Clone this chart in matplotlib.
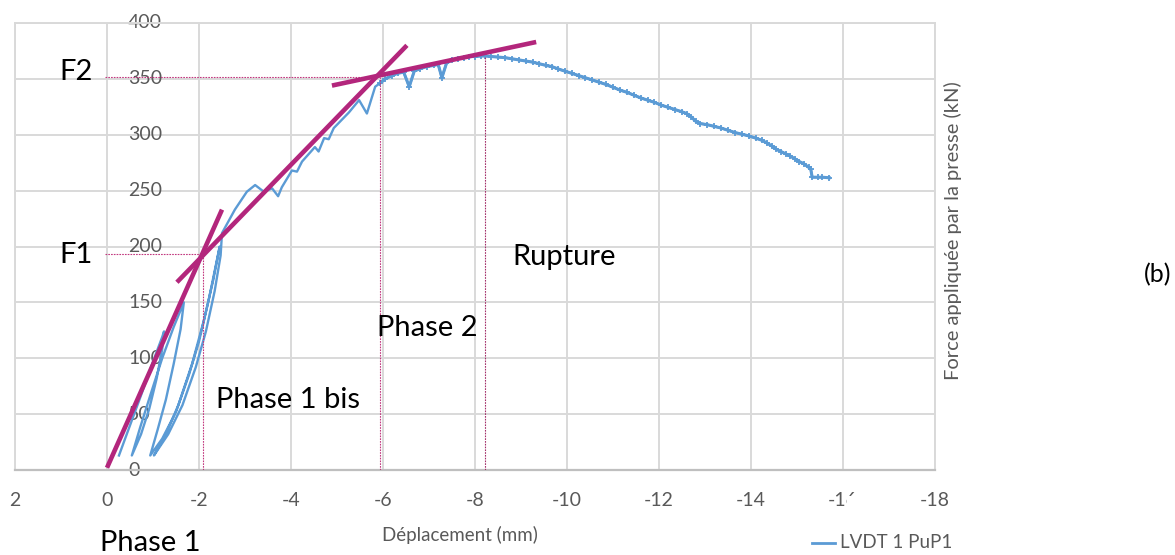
import matplotlib
matplotlib.use("Agg")
import matplotlib.pyplot as plt
from matplotlib.transforms import blended_transform_factory
from matplotlib.patches import Rectangle

plt.rcParams['font.family'] = ['Lato', 'DejaVu Sans']

# ---------------- data ----------------
x_ticks = [2, 0, -2, -4, -6, -8, -10, -12, -14, -16, -18]
x_tick_labels = ['2', '0', '-2', '-4', '-6', '-8', '-10', '-12', '-14', '-16', '-18']
y_ticks = [0, 50, 100, 150, 200, 250, 300, 350, 400]
y_tick_labels = ['0', '50', '100', '150', '200', '250', '300', '350', '400']

# LVDT 1 PuP1 : cyclic loading part (displacement mm, force kN)
cyc_x = [-0.26, -0.5, -0.75, -1.0, -1.2, -1.24,
         -1.2, -1.08, -0.92, -0.74, -0.54,
         -0.72, -0.95, -1.2, -1.45, -1.67,
         -1.6, -1.45, -1.28, -1.1, -0.94,
         -1.2, -1.5, -1.78, -2.0, -2.2, -2.35, -2.45,
         -2.31, -2.1, -1.85, -1.55, -1.27, -1.02,
         -1.33, -1.64, -1.93, -2.15, -2.34, -2.47]
cyc_y = [13, 40, 68, 97, 119, 124,
         108, 82, 55, 32, 13,
         38, 68, 100, 128, 150,
         126, 95, 63, 36, 13,
         28, 52, 85, 115, 150, 180, 200,
         170, 133, 95, 58, 31, 13,
         32, 58, 92, 124, 160, 192]

# main loading branch up to F2
main_x = [-2.5, -2.78, -3.04, -3.22, -3.41, -3.59, -3.72, -3.8, -4.02, -4.13,
          -4.24, -4.52, -4.6, -4.72, -4.82, -4.93, -5.26, -5.48, -5.65, -5.83]
main_y = [212, 233, 249, 255, 249, 252, 245, 253, 268, 267,
          276, 289, 285, 297, 296, 306, 320, 331, 319, 343]

# post-F2 branch (peak and softening)
post_x = [-5.93, -6.05, -6.2, -6.32, -6.45, -6.57, -6.68, -6.8, -6.95, -7.1,
          -7.2, -7.28, -7.38, -7.5, -7.62, -7.75, -7.88, -8.0, -8.12, -8.22,
          -8.35, -8.5, -8.65, -8.8, -8.95, -9.1, -9.25, -9.4, -9.55, -9.67,
          -9.8, -9.95, -10.1, -10.25, -10.4, -10.55, -10.7, -10.85, -11.0, -11.15,
          -11.3, -11.45, -11.6, -11.75, -11.9, -12.05, -12.2, -12.35, -12.5, -12.6,
          -12.7, -12.8, -12.9, -13.05, -13.2, -13.35, -13.5, -13.65, -13.8, -13.95,
          -14.1, -14.24, -14.35, -14.45, -14.55, -14.65, -14.75, -14.85, -14.95, -15.05,
          -15.15, -15.25, -15.3, -15.33, -15.45, -15.55, -15.7]
post_y = [346, 350, 353, 355, 356, 343, 357, 359, 361, 362,
          363, 351, 364, 367, 368, 369, 370, 370, 370.5, 370.5,
          370, 369.5, 369, 368, 367, 366, 365, 363.5, 362, 361,
          359, 357, 355, 353, 351, 349, 347, 345, 342.5, 340,
          338, 335.5, 333, 331, 329, 326.5, 324.5, 322.5, 320.5, 319,
          316, 312, 310, 309, 307.5, 306, 304, 302, 300.5, 299,
          297, 295, 292.5, 290, 287, 285, 283, 281, 278.5, 276,
          274, 271, 269, 262, 262, 262, 261.5]

# tangent lines (magenta)
tan1_x, tan1_y = [0.0, -2.5], [2, 233]
tan2_x, tan2_y = [-1.52, -6.52], [168, 380]
tan3_x, tan3_y = [-4.89, -9.33], [344, 383]

# characteristic points
F1_x, F1_y = -2.09, 193
F2_x, F2_y = -5.93, 352
Rup_x, Rup_y = -8.22, 370
ref_x0 = 0.05

# ---------------- figure ----------------
W, H = 1175, 555
fig = plt.figure(figsize=(W / 100, H / 100), dpi=100)
ax = fig.add_axes([15 / W, 1 - 470 / H, 920 / W, 447 / H])

ax.set_xlim(2, -18)
ax.set_ylim(0, 400)
ax.set_xticks(x_ticks)
ax.set_yticks(y_ticks)
ax.set_xticklabels([])
ax.set_yticklabels([])
ax.tick_params(length=0)
ax.grid(True, color='#D9D9D9', linewidth=1.4)
ax.set_axisbelow(True)
for s in ['top', 'right', 'left']:
    ax.spines[s].set_color('#D9D9D9')
    ax.spines[s].set_linewidth(1.4)
ax.spines['bottom'].set_color('#BFBFBF')
ax.spines['bottom'].set_linewidth(1.6)

blue = '#5B9BD5'
mag = '#B3267C'
dot = '#C2387F'

# curve
all_x = cyc_x + main_x + post_x
all_y = cyc_y + main_y + post_y
ax.plot(all_x, all_y, color=blue, linewidth=1.7, solid_joinstyle='round', zorder=3)
ax.plot(post_x, post_y, color=blue, linewidth=2.2, marker='+', markersize=4.5,
        markeredgewidth=1.3, zorder=3)

# dotted reference lines
kw = dict(color=dot, linewidth=0.8, linestyle=(0, (1.5, 1.0)), zorder=4)
ax.plot([ref_x0, F2_x], [F2_y, F2_y], **kw)
ax.plot([F2_x, F2_x], [0, F2_y], **kw)
ax.plot([ref_x0, F1_x], [F1_y, F1_y], **kw)
ax.plot([F1_x, F1_x], [0, F1_y], **kw)
ax.plot([Rup_x, Rup_x], [0, Rup_y], color='#A3306A', linewidth=0.8,
        linestyle=(0, (1.5, 1.0)), zorder=4)

# tangents
for tx, ty in [(tan1_x, tan1_y), (tan2_x, tan2_y), (tan3_x, tan3_y)]:
    ax.plot(tx, ty, color=mag, linewidth=3.3, solid_capstyle='butt', zorder=5)

gray = '#595959'
tick_fs = 14
# y tick labels inside plot (left aligned)
tr_y = blended_transform_factory(fig.transFigure, ax.transData)
for v, lab in zip(y_ticks, y_tick_labels):
    ax.text(128 / W, v, lab, transform=tr_y, ha='left', va='center',
            fontsize=tick_fs, color=gray, zorder=2)

# x tick labels
tr_x = blended_transform_factory(ax.transData, fig.transFigure)
for v, lab in zip(x_ticks, x_tick_labels):
    ax.text(v, 1 - 501 / H, lab, transform=tr_x, ha='center', va='center',
            fontsize=tick_fs, color=gray, clip_on=False)

# the "6" of -16 is partly hidden in the original
fig.add_artist(Rectangle((847 / W, 1 - 515 / H), 14 / W, 19 / H,
                         transform=fig.transFigure, facecolor='white',
                         edgecolor='none', zorder=10))

def ftxt(px, py, s, **k):
    fig.text(px / W, 1 - py / H, s, **k)

ftxt(460, 535, 'Déplacement (mm)', ha='center', va='center', fontsize=13.5, color=gray)
ftxt(953, 231, 'Force appliquée par la presse (kN)', ha='center', va='center',
     rotation=90, fontsize=14.5, color=gray)

big = 21
ftxt(76, 72, 'F2', ha='center', va='center', fontsize=big, color='black')
ftxt(76, 255, 'F1', ha='center', va='center', fontsize=big, color='black')
ftxt(100, 543, 'Phase 1', ha='left', va='center', fontsize=big, color='black')
ftxt(216, 400, 'Phase 1 bis', ha='left', va='center', fontsize=big, color='black')
ftxt(377, 328, 'Phase 2', ha='left', va='center', fontsize=big, color='black')
ftxt(512, 257, 'Rupture', ha='left', va='center', fontsize=big, color='black')
ftxt(1144, 275, '(b)', ha='left', va='center', fontsize=18, color='black')

# legend
fig.add_artist(plt.Line2D([812 / W, 835 / W], [1 - 543 / H, 1 - 543 / H],
                          color=blue, linewidth=2, transform=fig.transFigure))
ftxt(840, 543, 'LVDT 1 PuP1', ha='left', va='center', fontsize=13.5, color=gray)

fig.savefig('out.png', dpi=100, facecolor='white')
